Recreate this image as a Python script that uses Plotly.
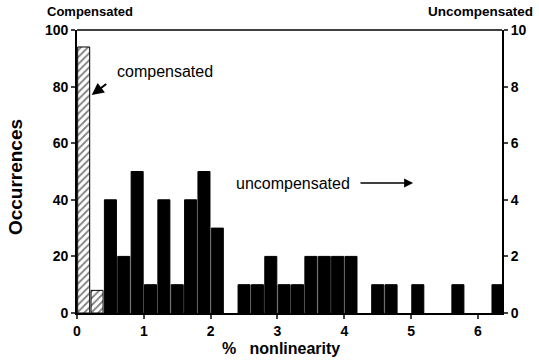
import plotly.graph_objects as go

# Compensated (left axis, 0-100)
comp_x = [0.1, 0.3]
comp_y = [94, 8]

# Uncompensated (right axis, 0-10)
unc_x = [0.5, 0.7, 0.9, 1.1, 1.3, 1.5, 1.7, 1.9, 2.1, 2.5, 2.7, 2.9, 3.1, 3.3,
         3.5, 3.7, 3.9, 4.1, 4.5, 4.7, 5.1, 5.7, 6.3]
unc_y = [4, 2, 5, 1, 4, 1, 4, 5, 3, 1, 1, 2, 1, 1,
         2, 2, 2, 2, 1, 1, 1, 1, 1]

x_ticks = [0, 1, 2, 3, 4, 5, 6]
left_ticks = [0, 20, 40, 60, 80, 100]
right_ticks = [0, 2, 4, 6, 8, 10]

FONT = "Liberation Sans"

fig = go.Figure()
fig.add_trace(go.Bar(
    x=comp_x, y=comp_y, width=0.18, yaxis="y",
    marker=dict(color="white", line=dict(color="black", width=1),
                pattern=dict(shape="/", fgcolor="black", bgcolor="white",
                             size=5, solidity=0.35)),
    showlegend=False,
))
fig.add_trace(go.Bar(
    x=unc_x, y=unc_y, width=0.18, yaxis="y2",
    marker=dict(color="black", line=dict(color="black", width=1)),
    showlegend=False,
))

tickfont = dict(family=FONT, size=14, color="black", weight="bold")

fig.update_layout(
    width=539, height=361,
    margin=dict(l=77, r=37, t=30, b=48),
    paper_bgcolor="white", plot_bgcolor="white",
    barmode="overlay",
    font=dict(family=FONT, color="black"),
    xaxis=dict(range=[0, 6.36], tickvals=x_ticks, ticks="outside", ticklen=4,
               tickwidth=1.5, showline=True, linecolor="black", linewidth=1.8,
               showgrid=False, zeroline=False, tickfont=tickfont),
    yaxis=dict(range=[0, 100], tickvals=left_ticks, ticks="outside", ticklen=4,
               tickwidth=1.5, showline=True, linecolor="black", linewidth=1.8,
               showgrid=False, zeroline=False, tickfont=tickfont),
    yaxis2=dict(range=[0, 10], tickvals=right_ticks, overlaying="y", side="right",
                ticks="outside", ticklen=4, tickwidth=1.5, showline=True,
                linecolor="black", linewidth=1.8, showgrid=False, zeroline=False,
                tickfont=tickfont),
    shapes=[dict(type="line", xref="paper", yref="paper", x0=0, x1=1, y0=1, y1=1,
                 line=dict(color="black", width=1.5))],
    annotations=[
        dict(text="Compensated", xref="paper", yref="paper", x=-0.075, y=1.0,
             xanchor="left", yanchor="middle", yshift=19, showarrow=False,
             font=dict(family=FONT, size=13, color="black", weight="bold")),
        dict(text="Uncompensated", xref="paper", yref="paper", x=1.078, y=1.0,
             xanchor="right", yanchor="middle", yshift=19, showarrow=False,
             font=dict(family=FONT, size=13.5, color="black", weight="bold")),
        dict(text="Occurrences", xref="paper", yref="paper", x=-0.146, y=0.48,
             xanchor="center", yanchor="middle", textangle=-90, showarrow=False,
             font=dict(family=FONT, size=19, color="black", weight="bold")),
        dict(text="%   nonlinearity", xref="paper", yref="paper", x=0.479, y=0,
             xanchor="center", yanchor="middle", yshift=-35, showarrow=False,
             font=dict(family=FONT, size=16, color="black", weight="bold")),
        dict(text="compensated", x=1.32, y=85.2, xref="x", yref="y", showarrow=False,
             font=dict(family=FONT, size=16, color="black")),
        dict(x=0.22, y=77, ax=0.46, ay=81.3, xref="x", yref="y", axref="x", ayref="y",
             text="", showarrow=True, arrowhead=2, arrowsize=1.2, arrowwidth=2,
             arrowcolor="black"),
        dict(text="uncompensated", x=3.23, y=45.9, xref="x", yref="y", showarrow=False,
             font=dict(family=FONT, size=16, color="black")),
        dict(x=5.03, y=45.9, ax=4.22, ay=45.9, xref="x", yref="y", axref="x", ayref="y",
             text="", showarrow=True, arrowhead=2, arrowsize=1.2, arrowwidth=1.5,
             arrowcolor="black"),
    ],
)

fig.write_html("out.html", config={"displayModeBar": False},
               post_script="document.body.style.margin='0';")
